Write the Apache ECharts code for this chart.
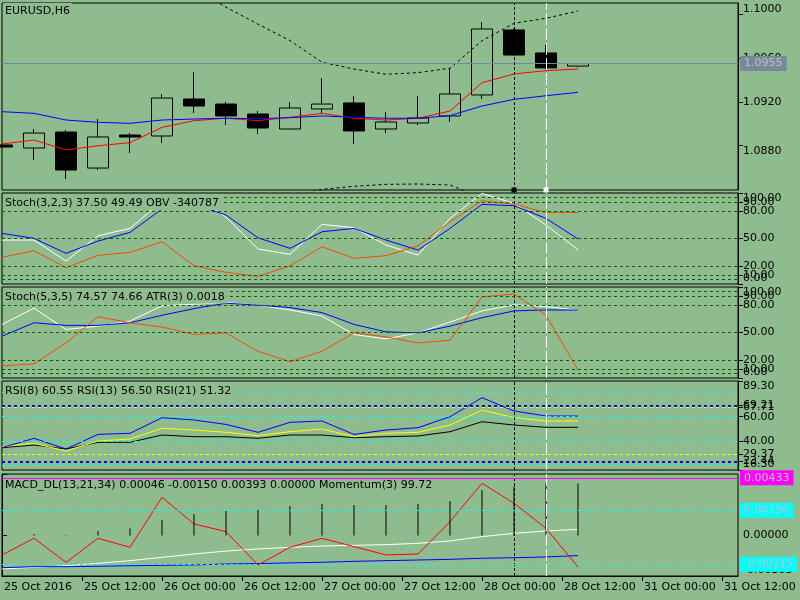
<!DOCTYPE html>
<html><head><meta charset="utf-8">
<script src="https://cdn.jsdelivr.net/npm/echarts@6/dist/echarts.min.js"></script>
<style>html,body{margin:0;padding:0;background:#8fbc8f}#c{width:800px;height:600px}</style>
</head><body><div id="c"></div>
<script>
// ---- data ----
const barTimes = ['24 Oct 06:00','24 Oct 12:00','24 Oct 18:00','25 Oct 00:00','25 Oct 06:00','25 Oct 12:00','25 Oct 18:00',
  '26 Oct 00:00','26 Oct 06:00','26 Oct 12:00','26 Oct 18:00','27 Oct 00:00','27 Oct 06:00','27 Oct 12:00','27 Oct 18:00',
  '28 Oct 00:00','28 Oct 06:00','28 Oct 12:00','28 Oct 18:00','31 Oct 00:00','31 Oct 06:00','31 Oct 12:00','31 Oct 18:00','01 Nov 00:00'];
const timeLabels = ['25 Oct 2016','25 Oct 12:00','26 Oct 00:00','26 Oct 12:00','27 Oct 00:00','27 Oct 12:00','28 Oct 00:00','28 Oct 12:00','31 Oct 00:00','31 Oct 12:00'];
const timeLabelPos = [0,2.5,5,7.5,10,12.5,15,17.5,20,22.5];

const candleOpen  = [1.08806,1.08778,1.08924,1.08595,1.08897,1.08888,1.09226,1.09180,1.09089,1.08952,1.09135,1.09190,1.08952,1.09007,1.09071,1.09263,1.09857,1.09647,1.09527];
const candleClose = [1.08787,1.08915,1.08577,1.08879,1.08879,1.09235,1.09162,1.09071,1.08961,1.09144,1.09180,1.08934,1.09016,1.09052,1.09272,1.09866,1.09628,1.09510,1.09550];
const candleLow   = [1.08780,1.08669,1.08495,1.08577,1.08733,1.08824,1.09098,1.08988,1.08906,1.08950,1.09098,1.08815,1.08915,1.08988,1.09016,1.09226,1.09620,1.09500,1.09518];
const candleHigh  = [1.08815,1.08952,1.08943,1.09043,1.08915,1.09272,1.09473,1.09199,1.09116,1.09199,1.09418,1.09254,1.09107,1.09254,1.09510,1.09930,1.09870,1.09720,1.09555];
const maFast = [1.08815,1.08851,1.08760,1.08799,1.08827,1.08967,1.09028,1.09050,1.09028,1.09059,1.09095,1.09050,1.09034,1.09050,1.09116,1.09375,1.09455,1.09485,1.09500];
const maSlow = [1.09110,1.09095,1.09034,1.09013,1.09004,1.09034,1.09043,1.09050,1.09046,1.09055,1.09071,1.09059,1.09050,1.09050,1.09074,1.09162,1.09223,1.09256,1.09287];
const bandUpper = [1.1065,1.1062,1.1058,1.1052,1.1045,1.1035,1.1023,1.10065,1.0991,1.0976,1.09562,1.09500,1.09452,1.09467,1.09507,1.09759,1.09918,1.09964,1.10030];
const bandLower = [1.0814,1.0816,1.0818,1.0820,1.0822,1.0824,1.0826,1.0829,1.0832,1.0835,1.0840,1.08428,1.08446,1.08449,1.08440,1.08321,1.0822,1.0818,1.0815];
const bidPrice = 1.0955;
const priceTicks = [1.1000,1.0960,1.0920,1.0880];

const stoch323Main   = [48.3,48.3,25.2,53.0,61.1,91,97,73.5,38.4,32.6,65.5,61.8,42.8,31.8,72.1,99.5,88.6,64.8,37.50];
const stoch323Signal = [55.6,50.2,33.7,47.2,56.7,82.3,88,75.7,50.8,39.2,57.4,61.1,48.3,37.3,61.1,87.5,86,72.1,49.49];
const obv = [-434300,-420500,-456000,-430200,-423900,-401800,-451800,-465700,-474000,-451800,-412300,-436400,-430900,-410200,-360000,-316300,-323200,-340600,-340787];
const stoch535Main   = [58.9,76.7,53.3,57.0,62.6,79.3,81.1,82.9,80.0,74.8,68.1,47.8,43.0,49.6,61.5,73.7,80.4,78.5,74.57];
const stoch535Signal = [45.9,60.7,57.8,57.8,60.7,68.9,76.3,82.2,80.0,77.4,71.9,58.9,50.7,49.6,57.0,66.3,73.7,74.8,74.66];
const atr3 = [0.00196,0.00204,0.00287,0.00391,0.00367,0.00350,0.00321,0.00327,0.00254,0.00213,0.00254,0.00327,0.00311,0.00287,0.00298,0.00470,0.00481,0.00397,0.00180];
const stochLevels = [5,10,20,50,80,90,95];
const stochTicks = [0,5,10,20,50,80,90,95,100];

const rsi8  = [34.6,42.3,33.5,45.5,46.4,59.2,57.3,53.7,47.2,55.4,56.5,45.5,49.1,51.0,60.0,75.6,64.7,60.6,60.55];
const rsi13 = [35.4,38.2,31.9,40.1,41.7,50.5,49.1,47.2,44.5,47.7,49.9,43.6,46.4,47.2,53.2,65.5,59.2,56.5,56.50];
const rsi21 = [34.6,36.8,33.5,39.0,39.0,45.0,43.6,43.6,42.3,45.0,45.0,42.8,43.6,44.2,47.7,55.9,53.2,51.3,51.32];
const rsiCyanLevels = [20,40,60,80];
const rsiBlueLevels = [23.44,69.21];
const rsiYellowLevels = [29.37,67.71];
const rsiTicks = [16.3,20,23.44,29.37,40,60,67.71,69.21,80,89.3];

const macdMain   = [-0.00250,-0.00238,-0.00226,-0.00208,-0.00188,-0.00163,-0.00138,-0.00116,-0.00100,-0.00088,-0.00078,-0.00073,-0.00068,-0.00058,-0.00040,-0.00008,0.00017,0.00035,0.00046];
const macdSignal = [-0.00241,-0.00233,-0.00233,-0.00230,-0.00226,-0.00223,-0.00220,-0.00213,-0.00210,-0.00205,-0.00200,-0.00193,-0.00188,-0.00183,-0.00178,-0.00170,-0.00166,-0.00160,-0.00150];
const macdHist   = [0,0.00012,0.00005,0.00035,0.00055,0.00117,0.00162,0.00187,0.00192,0.00222,0.00237,0.00230,0.00230,0.00237,0.00260,0.00342,0.00370,0.00392,0.00393];
const momentum   = [99.814,99.944,99.757,99.944,99.874,100.264,100.056,99.996,99.736,99.874,99.944,99.879,99.814,99.822,100.074,100.373,100.217,100.022,99.72];
const macdLevels = [0.00190,-0.00215];
const macdMark = 0.00433;
const macdTicks = [-0.00303,0,0.00462];

const markBar1 = 16, markBar2 = 17;

// ---- layout / style ----
const BG = '#8fbc8f';
const FONT = 'DejaVu Sans';
const L = 2, R = 62;
const grids = [
  {top:3,height:187},{top:193,height:91},{top:287,height:91},{top:381,height:89},{top:474,height:102}
].map(g => Object.assign({left:L,right:R,show:true,borderColor:'#000',borderWidth:1,backgroundColor:'transparent'}, g));

const xAxes = grids.map((g,i)=>({type:'category',gridIndex:i,data:barTimes,boundaryGap:false,show:false}));
xAxes.push({
  type:'value',gridIndex:4,min:0,max:23,position:'bottom',
  axisLine:{show:true,lineStyle:{color:'#000'}},
  axisTick:{show:true,length:5,customValues:timeLabelPos.slice(1),lineStyle:{color:'#000'}},
  axisLabel:{customValues:timeLabelPos,formatter:v=>timeLabels[Math.round(v/2.5)]||'',align:'left',margin:6,
    color:'#000',fontFamily:FONT,fontSize:11,padding:[0,0,0,2]},
  splitLine:{show:false}
});

function yAx(gi,min,max,ticks,dec){
  return {type:'value',gridIndex:gi,position:'right',min,max,
    axisLine:{show:true,lineStyle:{color:'#000'}},
    axisTick:{show:true,length:5,customValues:ticks,lineStyle:{color:'#000'}},
    axisLabel:{customValues:ticks,formatter:v=>v.toFixed(dec),color:'#000',margin:5,fontFamily:FONT,fontSize:11,
      showMinLabel:true,showMaxLabel:true,verticalAlignMinLabel:'bottom',verticalAlignMaxLabel:'top'},
    splitLine:{show:false}};
}
function hid(gi,min,max){return {type:'value',gridIndex:gi,min,max,show:false};}

const yAxes = [
  yAx(0,1.083943,1.101036,priceTicks,4),   //0
  yAx(1,0,100,stochTicks,2),               //1
  hid(1,-490000,-300000),                  //2 OBV
  yAx(2,0,100,stochTicks,2),               //3
  hid(2,0.00148,0.00509),                  //4 ATR
  yAx(3,16.3,89.3,rsiTicks,2),             //5
  yAx(4,-0.00303,0.00462,macdTicks,5),     //6
  hid(4,99.65,100.4456)                    //7 Momentum
];

function vlines(handles){
  const a = {xAxis:markBar1,lineStyle:{color:'#000',type:[3,2],width:1}};
  const b = {xAxis:markBar2,lineStyle:{color:'#fff',type:[12,3],width:1}};
  if(handles){ a.symbol='rect'; a.symbolSize=5; b.symbol='rect'; b.symbolSize=5; }
  return [a,b];
}
function ml(data){return {silent:true,animation:false,precision:6,symbol:['none','none'],label:{show:false},data};}
function lvl(vals,color,width){return vals.map(v=>({yAxis:v,lineStyle:{color,type:[3,3],width:width||1}}));}
function boxLabel(bg,dec){return {show:true,position:'end',distance:2,formatter:p=>Number(p.value).toFixed(dec),
  backgroundColor:bg,color:'#c0c0c0',padding:[1,4,1,4],lineHeight:13,fontFamily:FONT,fontSize:11};}
function ln(data,color,xi,yi,extra){
  return Object.assign({type:'line',data,xAxisIndex:xi,yAxisIndex:yi,symbol:'none',showSymbol:false,silent:true,
    lineStyle:{color,width:1},itemStyle:{color},z:3,clip:true,animation:false},extra||{});
}

const candles = candleOpen.map((o,i)=>[o,candleClose[i],candleLow[i],candleHigh[i]]);

const series = [
  {type:'candlestick',xAxisIndex:0,yAxisIndex:0,data:candles,barWidth:22,clip:true,silent:true,z:2,
   itemStyle:{color:BG,color0:'#000',borderColor:'#000',borderColor0:'#000',borderWidth:1},
   markLine:ml([{yAxis:bidPrice,lineStyle:{color:'#778899',type:'solid',width:1},label:boxLabel('#778899',4)}].concat(vlines(true)))},
  ln(maFast,'#ff0000',0,0),
  ln(maSlow,'#0000ff',0,0),
  ln(bandUpper,'#000',0,0,{lineStyle:{color:'#000',width:1,type:[3,3]}}),
  ln(bandLower,'#000',0,0,{lineStyle:{color:'#000',width:1,type:[3,3]}}),

  ln(stoch323Main,'#ffffff',1,1,{markLine:ml(lvl(stochLevels,'#006400').concat(vlines(false)))}),
  ln(stoch323Signal,'#0000ff',1,1),
  ln(obv,'#ff4500',1,2),

  ln(stoch535Main,'#ffffff',2,3,{markLine:ml(lvl(stochLevels,'#006400').concat(vlines(false)))}),
  ln(stoch535Signal,'#0000ff',2,3),
  ln(atr3,'#ff4500',2,4),

  ln(rsi21,'#000000',3,5,{markLine:ml(lvl(rsiCyanLevels,'#00ffff').concat(lvl(rsiYellowLevels,'#ffff00')).concat(lvl(rsiBlueLevels,'#0000ff',2)).concat(vlines(false)))}),
  ln(rsi13,'#ffff00',3,5),
  ln(rsi8,'#0000ff',3,5),

  {type:'bar',data:macdHist,xAxisIndex:4,yAxisIndex:6,barWidth:1,itemStyle:{color:'#000'},silent:true,z:4,animation:false,
   markLine:ml(vlines(false))},
  ln(macdMain,'#ffffff',4,6,{markLine:ml(
    [{yAxis:macdMark,lineStyle:{color:'#ff00ff',type:'solid',width:1},label:boxLabel('#ff00ff',5)}]
    .concat(macdLevels.map(v=>({yAxis:v,lineStyle:{color:'#00ffff',type:[3,3],width:1},label:boxLabel('#00ffff',5)}))))}),
  ln(macdSignal,'#0000ff',4,6),
  ln(momentum,'#ff0000',4,7)
];

function ttl(text,top,pad){
  return {text,left:3,top,padding:pad,backgroundColor:BG,z:10,
    textStyle:{fontFamily:FONT,fontSize:11,fontWeight:'normal',color:'#000',lineHeight:13}};
}
const titles = [
  ttl('EURUSD,H6',3,[2,2,0,2]),
  ttl('Stoch(3,2,3) 37.50 49.49 OBV -340787',195,[2,2,0,2]),
  ttl('Stoch(5,3,5) 74.57 74.66 ATR(3) 0.0018',288.5,[2,2,0,2]),
  ttl('RSI(8) 60.55 RSI(13) 56.50 RSI(21) 51.32',383,[2,2,2,2]),
  ttl('MACD_DL(13,21,34) 0.00046 -0.00150 0.00393 0.00000 Momentum(3) 99.72',479,[0,2,0,2])
];

const chart = echarts.init(document.getElementById('c'),null,{renderer:'canvas'});
chart.setOption({
  backgroundColor:BG,
  animation:false,
  textStyle:{fontFamily:FONT},
  title:titles,
  grid:grids,
  xAxis:xAxes,
  yAxis:yAxes,
  series
});
</script></body></html>
